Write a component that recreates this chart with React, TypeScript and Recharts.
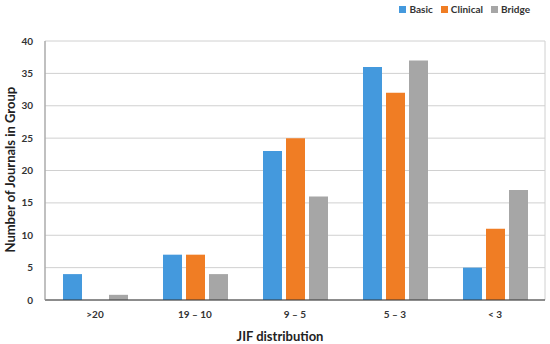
import {
  Bar,
  BarChart,
  CartesianGrid,
  Legend,
  XAxis,
  YAxis,
} from 'recharts';

const categories = ['>20', '19 \u2013 10', '9 \u2013 5', '5 \u2013 3', '< 3'];
const basic = [4, 7, 23, 36, 5];
const clinical = [0, 7, 25, 32, 11];
const bridge = [0.8, 4, 16, 37, 17];
const yTicks = [0, 5, 10, 15, 20, 25, 30, 35, 40];

const seriesNames = ['Basic', 'Clinical', 'Bridge'];
const colors = ['#4499DD', '#F07D24', '#A6A6A6'];

const font = 'Lato, "Open Sans", sans-serif';

function LegendBox() {
  return (
    <div style={{ display: 'flex', gap: 8, fontSize: 10, fontWeight: 700, color: '#333', fontFamily: font }}>
      {seriesNames.map((s, i) => (
        <span key={s} style={{ display: 'flex', alignItems: 'center', gap: 3 }}>
          <span style={{ width: 7, height: 7, background: colors[i], display: 'inline-block' }} />
          {s}
        </span>
      ))}
    </div>
  );
}

export default function App() {
  const chartData = categories.map((name, i) => ({
    name,
    Basic: basic[i],
    Clinical: clinical[i],
    Bridge: bridge[i],
  }));

  return (
    <div style={{ position: 'absolute', left: 0, top: 0, width: 550, height: 344, background: '#fff', fontFamily: font }}>
      <BarChart
        width={550}
        height={344}
        data={chartData}
        margin={{ top: 29, right: 5, left: 20, bottom: 14 }}
        barCategoryGap="18%"
        barGap={4}
      >
        <CartesianGrid
          stroke="#d0d0d0"
          verticalCoordinatesGenerator={({ offset }: any) => [offset.left, offset.left + offset.width]}
        />
        <XAxis
          dataKey="name"
          height={30}
          tickLine={false}
          axisLine={{ stroke: '#333' }}
          tick={{ fontSize: 10, fontWeight: 700, fill: '#333', fontFamily: font }}
          tickMargin={5}
          label={{ value: 'JIF distribution', position: 'insideBottom', offset: -11, dx: -15, fontSize: 13, fontWeight: 700, fill: '#222', fontFamily: font }}
        />
        <YAxis
          width={25}
          domain={[0, 40]}
          ticks={yTicks}
          tickLine={false}
          axisLine={{ stroke: '#999' }}
          tick={{ fontSize: 10, fontWeight: 700, fill: '#333', fontFamily: font }}
          tickMargin={6}
          label={{ value: 'Number of Journals in Group', angle: -90, position: 'insideLeft', offset: -10, dy: 82, fontSize: 13, fontWeight: 700, fill: '#222', fontFamily: font }}
        />
        <Legend
          verticalAlign="top"
          align="right"
          wrapperStyle={{ top: 3, right: 20, width: 'auto' }}
          content={() => <LegendBox />}
        />
        {seriesNames.map((s, i) => (
          <Bar key={s} dataKey={s} fill={colors[i]} isAnimationActive={false} />
        ))}
      </BarChart>
    </div>
  );
}
